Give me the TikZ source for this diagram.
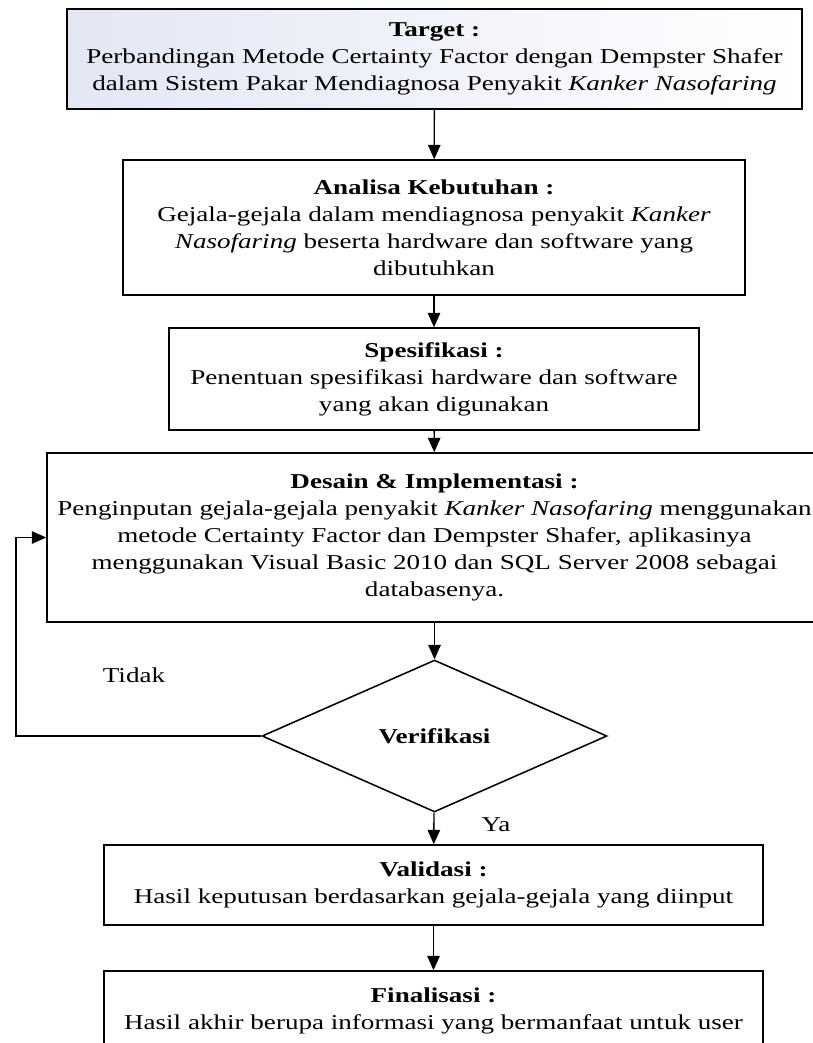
\documentclass[tikz,border=0pt]{standalone}
\usepackage{fontspec}
\setmainfont{Liberation Serif}[FakeStretch=1.28]
\usetikzlibrary{shapes.geometric,arrows.meta}
\definecolor{targetblue}{RGB}{226,231,244}
\begin{document}
\begin{tikzpicture}[x=0.52pt, y=-0.52pt,
  box/.style={shape=rectangle, draw=black, line width=0.8pt, align=center, inner sep=0pt, font=\fontsize{11}{14}\selectfont},
  flow/.style={-{Triangle[length=7.5pt,width=6.5pt]}, line width=0.7pt, draw=black}]
\useasboundingbox (0,0) rectangle (813,1043);
\clip (0,0) rectangle (813,1043);
\node[box, left color=targetblue, right color=white, minimum width=382.2pt, minimum height=52pt] (T) at (434.5,59) {\textbf{Target :}\\Perbandingan Metode Certainty Factor dengan Dempster Shafer\\dalam Sistem Pakar Mendiagnosa Penyakit \textit{Kanker Nasofaring}};
\node[box, minimum width=323.4pt, minimum height=70.2pt] (A) at (434,227.5) {\textbf{Analisa Kebutuhan :}\\Gejala-gejala dalam mendiagnosa penyakit \textit{Kanker}\\\textit{Nasofaring} beserta hardware dan software yang\\dibutuhkan};
\node[box, minimum width=275.6pt, minimum height=53pt] (S) at (434,379) {\textbf{Spesifikasi :}\\Penentuan spesifikasi hardware dan software\\yang akan digunakan};
\node[box, minimum width=403pt, minimum height=87.9pt] (D) at (434.5,537.5) {\textbf{Desain \& Implementasi :}\\Penginputan gejala-gejala penyakit \textit{Kanker Nasofaring} menggunakan\\metode Certainty Factor dan Dempster Shafer, aplikasinya\\menggunakan Visual Basic 2010 dan SQL Server 2008 sebagai\\databasenya.};
\node[shape=diamond, draw=black, line width=0.8pt, aspect=2.27, minimum width=179.4pt, minimum height=79pt, inner sep=0pt, font=\fontsize{11}{14}\selectfont\bfseries] (V) at (434.5,736) {Verifikasi};
\node[box, minimum width=342.7pt, minimum height=41.6pt] (Va) at (433.5,885) {\textbf{Validasi :}\\Hasil keputusan berdasarkan gejala-gejala yang diinput};
\node[box, minimum width=342.7pt, minimum height=41.6pt] (F) at (433.5,1011) {\textbf{Finalisasi :}\\Hasil akhir berupa informasi yang bermanfaat untuk user};
\node[font=\fontsize{11}{14}\selectfont] (no) at (134,675) {Tidak};
\node[font=\fontsize{11}{14}\selectfont] (yes) at (496,825) {Ya};
\coordinate (L) at (16,736);
\path [flow] (T) edge (A);
\path [flow] (A) edge (S);
\path [flow] (S) edge (D);
\path [flow] (D) edge (V);
\path [flow] (V) edge (Va);
\path [flow] (Va) edge (F);
\path [flow] (V.west) -- (L) |- (D.west);
\end{tikzpicture}
\end{document}
